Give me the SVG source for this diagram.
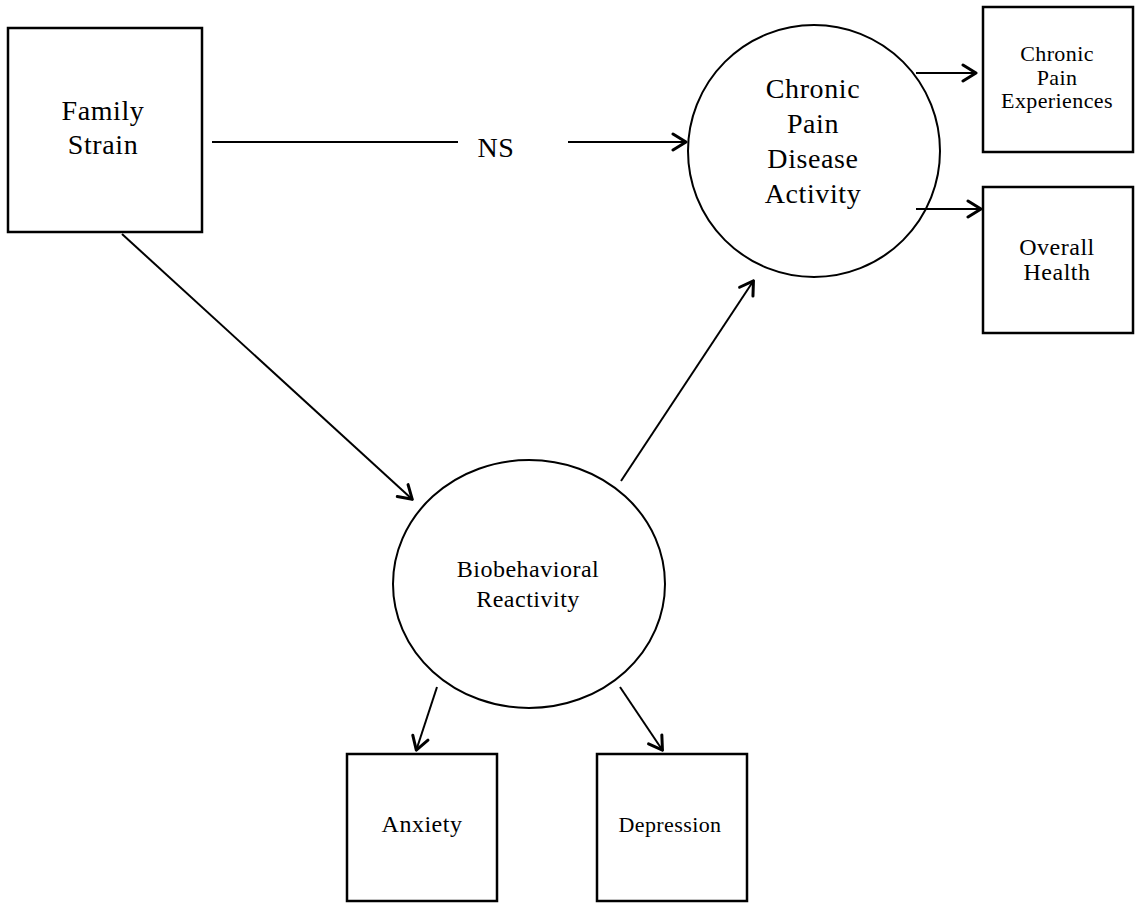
<svg xmlns="http://www.w3.org/2000/svg" width="1136" height="903" viewBox="0 0 1136 903">
<style>
.box{fill:#fff;stroke:#000;stroke-width:2.5}
.c{fill:#fff;stroke:#000;stroke-width:2}
.t{font-family:"Liberation Serif","Times New Roman",serif;fill:#000;text-anchor:middle}
.L{font-size:28px;letter-spacing:0.6px}
.M{font-size:24px;letter-spacing:0.5px}
.S{font-size:22px;letter-spacing:0.4px}
.ln{stroke:#000;stroke-width:2;fill:none}
</style>
<defs>
<marker id="ah" markerUnits="userSpaceOnUse" markerWidth="30" markerHeight="30" refX="20" refY="10" orient="auto">
<polyline points="6,2 19,10 6,18" fill="none" stroke="#000" stroke-width="3" stroke-linecap="round" stroke-linejoin="round"/>
</marker>
</defs>
<rect width="1136" height="903" fill="#fff"/>
<g id="family-strain">
<rect class="box" x="8" y="28" width="194" height="204"/>
<text class="t L" x="103" y="120">Family</text>
<text class="t L" x="103" y="154">Strain</text>
</g>
<g id="chronic-pain-disease-activity">
<circle class="c" cx="814" cy="151" r="126"/>
<text class="t L" x="813" y="98">Chronic</text>
<text class="t L" x="813" y="133">Pain</text>
<text class="t L" x="813" y="168">Disease</text>
<text class="t L" x="813" y="203">Activity</text>
</g>
<g id="chronic-pain-experiences">
<rect class="box" x="983" y="7" width="150" height="145"/>
<text class="t S" x="1057" y="61">Chronic</text>
<text class="t S" x="1057" y="85">Pain</text>
<text class="t S" x="1057" y="108">Experiences</text>
</g>
<g id="overall-health">
<rect class="box" x="983" y="187" width="150" height="146"/>
<text class="t M" x="1057" y="255">Overall</text>
<text class="t M" x="1057" y="280">Health</text>
</g>
<g id="biobehavioral-reactivity">
<ellipse class="c" cx="529" cy="584" rx="136" ry="124"/>
<text class="t M" x="528" y="577">Biobehavioral</text>
<text class="t M" x="528" y="607">Reactivity</text>
</g>
<g id="anxiety">
<rect class="box" x="347" y="754" width="150" height="147"/>
<text class="t M" x="422" y="832">Anxiety</text>
</g>
<g id="depression">
<rect class="box" x="597" y="754" width="150" height="147"/>
<text class="t S" x="670" y="832">Depression</text>
</g>
<g id="connectors">
<line class="ln" x1="212" y1="142" x2="458" y2="142"/>
<line class="ln" x1="568" y1="142" x2="687" y2="142" marker-end="url(#ah)"/>
<line class="ln" x1="122" y1="234" x2="413" y2="500" stroke-width="1.5" marker-end="url(#ah)"/>
<line class="ln" x1="621" y1="481" x2="754" y2="280" stroke-width="1.5" marker-end="url(#ah)"/>
<line class="ln" x1="916" y1="73" x2="977" y2="73" marker-end="url(#ah)"/>
<line class="ln" x1="916" y1="209" x2="982" y2="209" marker-end="url(#ah)"/>
<line class="ln" x1="437" y1="687" x2="416" y2="751" stroke-width="1.5" marker-end="url(#ah)"/>
<line class="ln" x1="620" y1="687" x2="663" y2="751" stroke-width="1.5" marker-end="url(#ah)"/>
<text class="t L" x="496" y="157">NS</text>
</g>
</svg>
